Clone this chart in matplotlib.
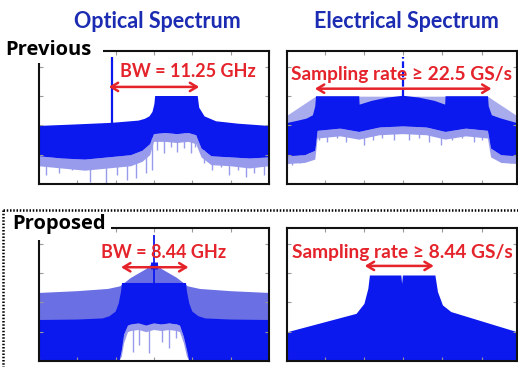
import numpy as np
import matplotlib.pyplot as plt
from matplotlib.patches import Rectangle
from matplotlib.lines import Line2D
from matplotlib.ticker import MultipleLocator

# Сравнение спектров: прежняя схема и предложенная
W, H = 518, 367
DARK = '#0b18ee'
BAND = '#6a6fe4'
WEDGE = '#a9acec'
NOISE = '#989bec'
RED = '#e5232b'
TITLE = '#1b2cb3'
FLOOR = -60

plt.rcParams['font.family'] = ['Lato', 'DejaVu Sans']

# --- оптический спектр, прежняя схема (x - ГГц, y - дБ) ---
tl_top_x = [-15, -10, -5.5, -2, -1.2, -0.6, -0.2, 0.05, 0.15, 5.7, 5.9, 6.6, 8.1, 11, 15]
tl_top_db = [-33.8, -33.1, -32.4, -31.4, -30.6, -29.5, -27.5, -24, -20.3, -20.3, -25.6, -29.5, -31.7, -32.8, -33.8]
tl_low_x = [-15, -12, -9, -6, -3, -1.5, -0.5, 0, 1.5, 3, 4.5, 5.5, 6.2, 7.5, 10, 12.5, 15]
tl_dark_low = [-47.5, -48.5, -49, -48, -47, -45, -42, -37.5, -37, -37.5, -37, -38, -44, -47.5, -48, -48.5, -48]
tl_noise_low = [-52, -53, -54, -53, -52, -50, -47, -41, -41, -41.5, -41, -42, -48, -51.5, -52, -53, -52]
tl_spike_x = [-14.1, -12.4, -10.7, -8.3, -6.3, -4.8, -3.5, -2.4, -1.1, -0.2, 0.4, 1.3, 2.2, 3.0, 3.9,
              4.8, 5.4, 6.5, 7.6, 8.7, 9.8, 10.9, 12.0, 13.0, 14.3]
tl_spike_db = [-55.9, -55.2, -53.7, -58.9, -59.7, -55.9, -58.2, -57.4, -55.2, -53.7, -44.6, -46.1, -43.2,
               -45.4, -43.9, -46.1, -43.2, -50.6, -53.7, -52.2, -55.9, -53.7, -56.7, -55.2, -55.9]
tl_carrier = -5.5
tl_arrow = [-5.9, 5.9]

# --- электрический спектр, прежняя схема ---
tr_top_x = [-14.8, -13.5, -12.3, -11.5, -11.2, -11.1, -5.6, -5.55, -4, -2, 0, 2, 4, 5.35, 5.4, 10.8, 10.9, 11.3, 12.5, 14.5]
tr_top_db = [-32.5, -31.5, -30.5, -29, -25, -20.4, -20.4, -24.2, -22.5, -21, -20.2, -21, -22.5, -24.2, -20.4, -20.4, -25, -29, -30.5, -32.5]
tr_wedge_x = [-14.8, -11.1, 10.8, 14.5]
tr_wedge_db = [-29.3, -20.6, -20.6, -29.3]
tr_low_x = [-14.8, -12.5, -11.2, -10.9, -8, -5.6, -3, 0, 3, 5.4, 8, 10.8, 11.2, 12.5, 14.5]
tr_dark_low = [-47.5, -47, -45, -36, -35, -36.5, -34.5, -34, -34.5, -36.5, -35, -36, -44, -47, -47.5]
tr_noise_low = [-51, -50.5, -49, -39.5, -38.5, -40, -38, -37.5, -38, -40, -38.5, -39.5, -48, -50.5, -51]
tr_spike_x = [-14.1, -13.1, -12.0, -10.7, -9.7, -8.4, -7.3, -6.3, -5.0, -3.9, -2.7, -1.2,
              0.7, 2.0, 3.3, 4.8, 6.2, 7.5, 9.0, 10.1, 11.6, 12.6, 13.7]
tr_spike_db = [-51.4, -50.6, -49.2, -40.1, -40.9, -39.4, -40.9, -38.6, -42.4, -40.1, -39.4, -40.1,
               -40.1, -39.4, -40.9, -42.4, -40.1, -39.4, -40.9, -40.1, -47.7, -49.9, -50.6]
tr_arrow = [-11.25, 11.25]

# --- оптический спектр, предложенная схема ---
bl_light_x = [-15, -10, -6, -4.4, -3, -2, -1, -0.4, 0, 0.4, 1, 2, 3, 4.4, 6, 10, 15]
bl_light_db = [-29.3, -28.5, -27.5, -26.3, -22.5, -20.5, -18.5, -16.5, -15.5, -16.5, -18.5, -20.5, -22.5, -26.3, -27.5, -28.5, -29.3]
bl_top_x = [-15, -10, -6.7, -5.8, -5.0, -4.6, -4.3, -4.17, 4.17, 4.3, 4.6, 5.0, 5.8, 6.7, 10, 15]
bl_top_db = [-41.5, -41.3, -40.8, -39.8, -37.7, -34, -28.7, -24.8, -24.8, -28.7, -34, -37.7, -39.8, -40.8, -41.3, -41.5]
bl_low_x = [-15, -4.5, -4.2, -3.9, -3.4, -3.0, -2, -1, 0, 1, 2, 3, 3.4, 3.9, 4.3, 4.6, 15]
bl_dark_low = [-60, -60, -55, -48, -44, -43.5, -43, -44, -43, -43.5, -43, -43.5, -44, -49, -55, -60, -60]
bl_noise_low = [-60, -60, -58, -52, -47, -46.5, -46, -47, -46, -46.5, -46, -46.5, -47, -52, -58, -60, -60]
bl_spike_x = [-2.8, -1.9, -0.6, 1.1, 2.0, 2.9]
bl_spike_db = [-55.8, -52.8, -56.5, -51.3, -54.3, -49.8]
bl_arrow = [-4.3, 4.5]

# --- электрический спектр, предложенная схема ---
br_top_x = [-14.8, -6.0, -5.0, -4.5, -4.3, -0.3, -0.2, -0.1, 4.04, 4.37, 5.0, 6.07, 14.5]
br_top_db = [-46.8, -38.5, -34, -27.2, -21.2, -21.2, -25, -21.2, -21.2, -28.7, -34.7, -37.7, -46.8]
br_arrow = [-4.9, 3.9]

fig = plt.figure(figsize=(W / 100, H / 100), dpi=100)
a = np.asarray


def px_axes(x0, y0, x1, y1):
    return fig.add_axes([x0 / W, 1 - y1 / H, (x1 - x0) / W, (y1 - y0) / H])


def style(ax, xlim):
    ax.set_xlim(*xlim)
    ax.set_ylim(FLOOR, 0)
    ax.xaxis.set_major_locator(MultipleLocator(5))
    ax.set_yticks(np.linspace(-46.8, -7.2, 4))
    ax.tick_params(direction='in', length=3, width=0.8, color='#9a9a9a', top=True, right=True,
                   labelbottom=False, labelleft=False)
    for s in ax.spines.values():
        s.set_linewidth(1.5)
        s.set_color('#111111')


def band(ax, tx, ty, bx, by, color):
    ax.fill(np.concatenate([a(tx), a(bx)[::-1]]), np.concatenate([a(ty), a(by)[::-1]]), color=color, lw=0)


def spikes(ax, xs, lows, bx, by):
    ax.vlines(xs, lows, np.interp(xs, bx, by), color=NOISE, lw=1)


def label(ax, x, y, s, arrow, ya, fs=13):
    ax.text(x, y, s, color=RED, fontsize=fs, fontweight='bold', ha='center', va='baseline')
    ax.annotate('', xy=(arrow[1], ya), xytext=(arrow[0], ya),
                arrowprops=dict(arrowstyle='<->,head_length=0.5,head_width=0.3', color=RED, lw=1.8,
                                shrinkA=0, shrinkB=0))


# верхний левый
ax = px_axes(39, 51, 269, 184)
style(ax, (-15, 15))
spikes(ax, tl_spike_x, tl_spike_db, tl_low_x, tl_dark_low)
band(ax, tl_low_x, tl_dark_low, tl_low_x, tl_noise_low, NOISE)
band(ax, tl_top_x, tl_top_db, tl_low_x, tl_dark_low, DARK)
ax.vlines(tl_carrier, np.interp(tl_carrier, tl_top_x, tl_top_db), -2.7, color=DARK, lw=1.6)
label(ax, 4.4, -11.9, 'BW = 11.25 GHz', tl_arrow, -16.2)

# верхний правый
ax = px_axes(287, 51, 517, 184)
style(ax, (-14.8, 14.5))
spikes(ax, tr_spike_x, tr_spike_db, tr_low_x, tr_dark_low)
band(ax, tr_low_x, tr_dark_low, tr_low_x, tr_noise_low, NOISE)
band(ax, tr_wedge_x, tr_wedge_db, tr_low_x, tr_dark_low, WEDGE)
band(ax, tr_top_x, tr_top_db, tr_low_x, tr_dark_low, DARK)
ax.vlines(0, -20.2, -2.7, color=DARK, lw=1.6, linestyles=(0, (3, 1.2)))
label(ax, -0.2, -13.0, 'Sampling rate \u2265 22.5 GS/s', tr_arrow, -17.0, fs=13.8)

# нижний левый
ax = px_axes(39, 228, 269, 361)
style(ax, (-15, 15))
spikes(ax, bl_spike_x, bl_spike_db, bl_low_x, bl_dark_low)
band(ax, bl_low_x, bl_dark_low, bl_low_x, bl_noise_low, NOISE)
band(ax, bl_light_x, bl_light_db, bl_low_x, bl_dark_low, BAND)
band(ax, bl_top_x, bl_top_db, bl_low_x, bl_dark_low, DARK)
ax.vlines(0, -24.8, -3.2, color=DARK, lw=1.3)
ax.vlines(0, -18.5, -15.5, color=DARK, lw=5)
label(ax, 1.3, -13.7, 'BW = 8.44 GHz', bl_arrow, -17.7)

# нижний правый
ax = px_axes(287, 228, 517, 361)
style(ax, (-14.8, 14.5))
ax.fill_between(br_top_x, br_top_db, FLOOR, color=DARK, lw=0)
label(ax, -0.1, -13.5, 'Sampling rate \u2265 8.44 GS/s', br_arrow, -17.1, fs=13.8)

# заголовки и подписи
fig.text(157 / W, 1 - 28.5 / H, 'Optical Spectrum', color=TITLE, fontsize=15.5, fontweight='bold',
         ha='center', va='baseline')
fig.text(406 / W, 1 - 28.5 / H, 'Electrical Spectrum', color=TITLE, fontsize=15.5, fontweight='bold',
         ha='center', va='baseline')

fig.add_artist(Rectangle((0, 1 - 63 / H), 103 / W, 30 / H, transform=fig.transFigure,
                         fc='white', ec='none', zorder=5))
fig.add_artist(Rectangle((6 / W, 1 - 240 / H), 105 / W, 28 / H, transform=fig.transFigure,
                         fc='white', ec='none', zorder=5))
fig.text(5 / W, 1 - 55 / H, 'Previous', family=['Open Sans', 'DejaVu Sans'], fontsize=14.5,
         fontweight='bold', ha='left', va='baseline', zorder=6)
fig.text(12 / W, 1 - 229.5 / H, 'Proposed', family=['Open Sans', 'DejaVu Sans'], fontsize=14.5,
         fontweight='bold', ha='left', va='baseline', zorder=6)

# пунктирная рамка
fig.add_artist(Line2D([2.7 / W, 1], [1 - 210 / H, 1 - 210 / H], color='black', lw=1.8,
                      linestyle=(0, (0.6, 0.7)), transform=fig.transFigure, zorder=6))
fig.add_artist(Line2D([2.7 / W, 2.7 / W], [1 - 210 / H, 0], color='black', lw=1.8,
                      linestyle=(0, (0.6, 0.7)), transform=fig.transFigure, zorder=6))

fig.savefig('out.png', dpi=100)
